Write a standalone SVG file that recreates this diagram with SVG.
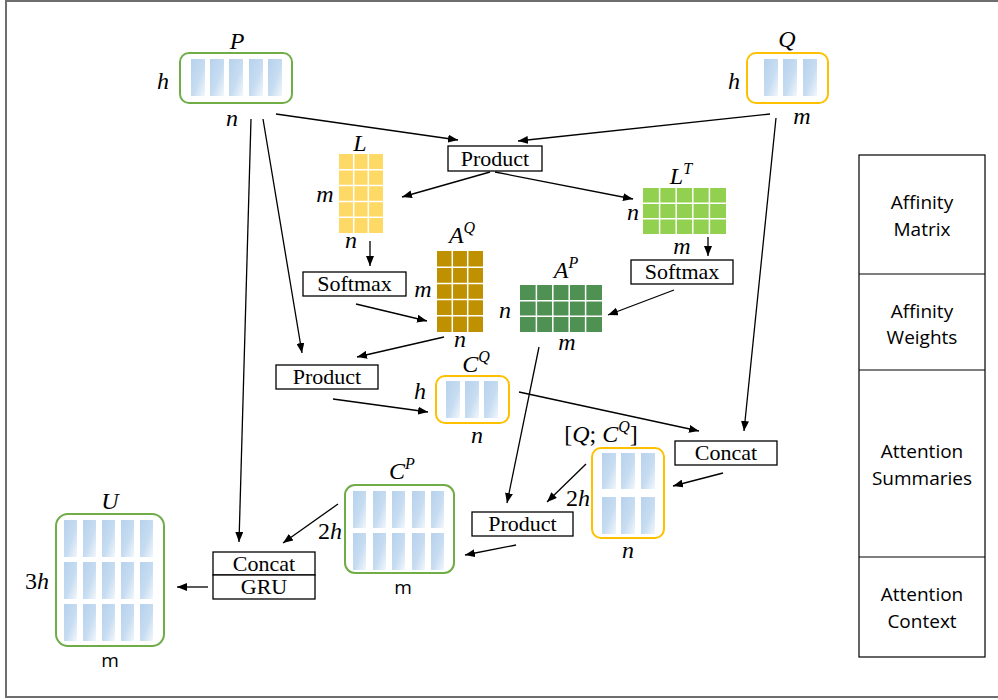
<svg xmlns="http://www.w3.org/2000/svg" width="998" height="700" viewBox="0 0 998 700">
<defs>
<linearGradient id="col" x1="0" y1="0" x2="1" y2="1">
<stop offset="0" stop-color="#b7d2ed"/>
<stop offset="0.55" stop-color="#c6dcf1"/>
<stop offset="1" stop-color="#f2f7fc"/>
</linearGradient>
<marker id="ah" viewBox="0 0 10 8" refX="10" refY="4" markerWidth="10" markerHeight="8" markerUnits="userSpaceOnUse" orient="auto">
<path d="M0,0 L10,4 L0,8 Z" fill="#000"/>
</marker>
</defs>
<style>
.frame{fill:none;stroke:#6e6e6e;stroke-width:2}
.gbox{fill:#fff;stroke:#70ad47;stroke-width:2}
.ybox{fill:#fff;stroke:#ffc000;stroke-width:2}
.c{fill:url(#col)}
.op{fill:#fff;stroke:#000;stroke-width:1.3}
.optx{font-family:"Liberation Serif",serif;font-size:22px;text-anchor:middle;fill:#000}
.m{font-family:"Liberation Serif",serif;font-style:italic;font-size:24px;text-anchor:middle;fill:#000}
.up{font-style:normal}
.sup{font-size:16px}
.s{font-family:"Open Sans","Liberation Sans",sans-serif;font-size:19px;text-anchor:middle;fill:#000}
.grid{stroke:#fff;stroke-width:1.5;fill:none}
.leg{fill:#fff;stroke:#000;stroke-width:1.2}
.ln{stroke:#000;stroke-width:1.3;fill:none;marker-end:url(#ah)}
</style>
<rect x="0" y="0" width="998" height="700" fill="#fff"/>
<rect class="frame" x="6" y="1" width="1000" height="696"/>

<g id="P">
<rect class="gbox" x="180" y="53" width="112" height="50" rx="9"/>
<rect class="c" x="191" y="59" width="14" height="37"/>
<rect class="c" x="210" y="59" width="14" height="37"/>
<rect class="c" x="229" y="59" width="14" height="37"/>
<rect class="c" x="249" y="59" width="14" height="37"/>
<rect class="c" x="268" y="59" width="14" height="37"/>
<text class="m" x="237" y="49">P</text>
<text class="m" x="163" y="89">h</text>
<text class="m" x="232" y="126">n</text>
</g>

<g id="Q">
<rect class="ybox" x="747" y="53" width="81" height="50" rx="9"/>
<rect class="c" x="764" y="59" width="14" height="37"/>
<rect class="c" x="783" y="59" width="14" height="37"/>
<rect class="c" x="803" y="59" width="14" height="37"/>
<text class="m" x="787" y="47">Q</text>
<text class="m" x="734" y="89">h</text>
<text class="m" x="802" y="124">m</text>
</g>

<g id="product1">
<rect class="op" x="448" y="146" width="94" height="25"/>
<text class="optx" x="495" y="166">Product</text>
</g>

<g id="L">
<rect x="339" y="154" width="44" height="79" fill="#ffd966"/>
<path class="grid" d="M353.7,154V233M368.3,154V233M339,169.8H383M339,185.6H383M339,201.4H383M339,217.2H383"/>
<text class="m" x="360" y="151">L</text>
<text class="m" x="325" y="202">m</text>
<text class="m" x="351" y="248">n</text>
</g>

<g id="LT">
<rect x="643" y="188" width="83" height="46" fill="#92d050"/>
<path class="grid" d="M659.6,188V234M676.2,188V234M692.8,188V234M709.4,188V234M643,203.3H726M643,218.7H726"/>
<text class="m" x="681" y="184">L<tspan class="sup" dy="-10">T</tspan></text>
<text class="m" x="633" y="220">n</text>
<text class="m" x="682" y="254">m</text>
</g>

<g id="softmax1">
<rect class="op" x="303" y="272" width="103" height="24"/>
<text class="optx" x="354.5" y="291">Softmax</text>
</g>

<g id="softmax2">
<rect class="op" x="631" y="260" width="102" height="24"/>
<text class="optx" x="682" y="279">Softmax</text>
</g>

<g id="AQ">
<rect x="437" y="251" width="46" height="81" fill="#bf9000"/>
<path class="grid" d="M452.3,251V332M467.7,251V332M437,267.2H483M437,283.4H483M437,299.6H483M437,315.8H483"/>
<text class="m" x="462" y="243">A<tspan class="sup" dy="-10">Q</tspan></text>
<text class="m" x="423" y="297">m</text>
<text class="m" x="460" y="347">n</text>
</g>

<g id="AP">
<rect x="520" y="285" width="82" height="47" fill="#4f9153"/>
<path class="grid" d="M536.4,285V332M552.8,285V332M569.2,285V332M585.6,285V332M520,300.7H602M520,316.3H602"/>
<text class="m" x="566" y="278">A<tspan class="sup" dy="-10">P</tspan></text>
<text class="m" x="505" y="318">n</text>
<text class="m" x="567" y="350">m</text>
</g>

<g id="product2">
<rect class="op" x="276" y="365" width="102" height="24"/>
<text class="optx" x="327" y="384">Product</text>
</g>

<g id="CQ">
<rect class="ybox" x="436" y="376" width="73" height="47" rx="9"/>
<rect class="c" x="446" y="381" width="14" height="37"/>
<rect class="c" x="465" y="381" width="14" height="37"/>
<rect class="c" x="484" y="381" width="14" height="37"/>
<text class="m" x="476" y="372">C<tspan class="sup" dy="-10">Q</tspan></text>
<text class="m" x="420" y="399">h</text>
<text class="m" x="477" y="443">n</text>
</g>

<g id="concat1">
<rect class="op" x="675" y="441" width="102" height="24"/>
<text class="optx" x="726" y="460">Concat</text>
</g>

<g id="QCQ">
<rect class="ybox" x="592" y="448" width="72" height="90" rx="9"/>
<rect class="c" x="602" y="453" width="14" height="36"/>
<rect class="c" x="621" y="453" width="14" height="36"/>
<rect class="c" x="641" y="453" width="14" height="36"/>
<rect class="c" x="602" y="497" width="14" height="37"/>
<rect class="c" x="621" y="497" width="14" height="37"/>
<rect class="c" x="641" y="497" width="14" height="37"/>
<text class="m" x="601" y="442"><tspan class="up">[</tspan>Q<tspan class="up">; </tspan>C<tspan class="sup" dy="-10">Q</tspan><tspan class="up" dy="10">]</tspan></text>
<text class="m" x="578" y="506"><tspan class="up">2</tspan>h</text>
<text class="m" x="628" y="558">n</text>
</g>

<g id="product3">
<rect class="op" x="472" y="512" width="101" height="24"/>
<text class="optx" x="522.5" y="531">Product</text>
</g>

<g id="CP">
<rect class="gbox" x="345" y="485" width="109" height="88" rx="10"/>
<rect class="c" x="353" y="491" width="13" height="37"/>
<rect class="c" x="373" y="491" width="13" height="37"/>
<rect class="c" x="392" y="491" width="13" height="37"/>
<rect class="c" x="412" y="491" width="13" height="37"/>
<rect class="c" x="431" y="491" width="13" height="37"/>
<rect class="c" x="353" y="533" width="13" height="37"/>
<rect class="c" x="373" y="533" width="13" height="37"/>
<rect class="c" x="392" y="533" width="13" height="37"/>
<rect class="c" x="412" y="533" width="13" height="37"/>
<rect class="c" x="431" y="533" width="13" height="37"/>
<text class="m" x="402" y="479">C<tspan class="sup" dy="-10">P</tspan></text>
<text class="m" x="330" y="539"><tspan class="up">2</tspan>h</text>
<text class="s" x="403" y="594">m</text>
</g>

<g id="concatgru">
<rect class="op" x="213" y="552" width="102" height="23"/>
<rect class="op" x="213" y="575" width="102" height="24"/>
<text class="optx" x="264" y="571">Concat</text>
<text class="optx" x="264" y="594">GRU</text>
</g>

<g id="U">
<rect class="gbox" x="56" y="514" width="108" height="132" rx="12"/>
<rect class="c" x="64" y="520" width="13" height="37"/>
<rect class="c" x="83" y="520" width="13" height="37"/>
<rect class="c" x="102" y="520" width="13" height="37"/>
<rect class="c" x="121" y="520" width="13" height="37"/>
<rect class="c" x="140" y="520" width="13" height="37"/>
<rect class="c" x="64" y="562" width="13" height="37"/>
<rect class="c" x="83" y="562" width="13" height="37"/>
<rect class="c" x="102" y="562" width="13" height="37"/>
<rect class="c" x="121" y="562" width="13" height="37"/>
<rect class="c" x="140" y="562" width="13" height="37"/>
<rect class="c" x="64" y="604" width="13" height="37"/>
<rect class="c" x="83" y="604" width="13" height="37"/>
<rect class="c" x="102" y="604" width="13" height="37"/>
<rect class="c" x="121" y="604" width="13" height="37"/>
<rect class="c" x="140" y="604" width="13" height="37"/>
<text class="m" x="110" y="509">U</text>
<text class="m" x="37" y="589"><tspan class="up">3</tspan>h</text>
<text class="s" x="110" y="667">m</text>
</g>

<g id="legend">
<rect class="leg" x="859" y="155" width="126" height="502"/>
<path d="M859,274H985M859,370H985M859,557H985" stroke="#000" stroke-width="1.2"/>
<text class="s" x="922" y="209">Affinity</text>
<text class="s" x="922" y="236">Matrix</text>
<text class="s" x="922" y="318">Affinity</text>
<text class="s" x="922" y="344">Weights</text>
<text class="s" x="922" y="458">Attention</text>
<text class="s" x="922" y="485">Summaries</text>
<text class="s" x="922" y="601">Attention</text>
<text class="s" x="922" y="628">Context</text>
</g>

<g id="connectors">
<line class="ln" x1="276" y1="114" x2="458" y2="140"/>
<line class="ln" x1="770" y1="114" x2="518" y2="141"/>
<line class="ln" x1="251" y1="119" x2="239" y2="542"/>
<line class="ln" x1="263" y1="119" x2="302" y2="353"/>
<line class="ln" x1="490" y1="172" x2="402" y2="197"/>
<line class="ln" x1="495" y1="172" x2="633" y2="199"/>
<line class="ln" x1="370" y1="241" x2="370" y2="266"/>
<line class="ln" x1="708" y1="237" x2="708" y2="256"/>
<line class="ln" x1="356" y1="304" x2="427" y2="321"/>
<line class="ln" x1="674" y1="290" x2="608" y2="315"/>
<line class="ln" x1="444" y1="337" x2="357" y2="357"/>
<line class="ln" x1="333" y1="399" x2="428" y2="412"/>
<line class="ln" x1="519" y1="392" x2="699" y2="431"/>
<line class="ln" x1="776" y1="118" x2="744" y2="431"/>
<line class="ln" x1="539" y1="347" x2="507" y2="503"/>
<line class="ln" x1="723" y1="473" x2="673" y2="486"/>
<line class="ln" x1="586" y1="464" x2="547" y2="502"/>
<line class="ln" x1="516" y1="545" x2="465" y2="555"/>
<line class="ln" x1="338" y1="504" x2="283" y2="543"/>
<line class="ln" x1="208" y1="587" x2="177" y2="587"/>
</g>
</svg>
